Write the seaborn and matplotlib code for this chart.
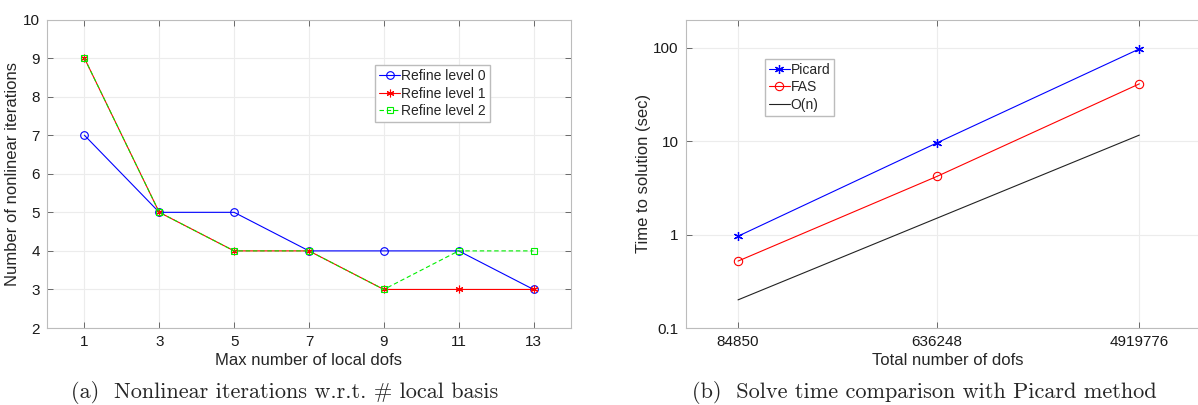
import numpy as np
import pandas as pd
import matplotlib
matplotlib.use("Agg")
import matplotlib.pyplot as plt
import seaborn as sns

# left panel: nonlinear iterations vs max local dofs
local_dofs = [1, 3, 5, 7, 9, 11, 13]
refine_0 = [7, 5, 5, 4, 4, 4, 3]
refine_1 = [9, 5, 4, 4, 3, 3, 3]
refine_2 = [9, 5, 4, 4, 3, 4, 4]

# right panel: solve time vs total dofs
total_dofs = [84850, 636248, 4919776]
picard_time = [0.96, 9.6, 97]
fas_time = [0.52, 4.2, 41]
order_n = [0.2, 1.5, 11.6]

sns.set_style("whitegrid")
plt.rcParams['font.family'] = ['Liberation Sans', 'DejaVu Sans']
plt.rcParams['axes.edgecolor'] = '#bcbcbc'
plt.rcParams['grid.color'] = '#ececec'
plt.rcParams['grid.linewidth'] = 0.8

fig = plt.figure(figsize=(11.98, 4.05), dpi=100)
ax1 = fig.add_axes([0.0392, 0.1901, 0.4374, 0.7617])
ax2 = fig.add_axes([0.5724, 0.1901, 0.4372, 0.7617])

left = pd.DataFrame({'dofs': local_dofs, 'r0': refine_0, 'r1': refine_1, 'r2': refine_2})
asterisk = (6, 2, 0)

sns.lineplot(data=left, x='dofs', y='r0', ax=ax1, color='#0000ff', lw=0.8,
             marker='o', markersize=5.5, markerfacecolor='none', markeredgecolor='#0000ff',
             markeredgewidth=0.8, label='Refine level 0')
sns.lineplot(data=left, x='dofs', y='r1', ax=ax1, color='#ff0000', lw=0.8,
             marker=asterisk, markersize=5.5, markeredgecolor='#ff0000',
             markeredgewidth=0.8, label='Refine level 1')
sns.lineplot(data=left, x='dofs', y='r2', ax=ax1, color='#00ee00', lw=0.8,
             linestyle=(0, (4, 2.5)), marker='s', markersize=4.5, markerfacecolor='none',
             markeredgecolor='#00ee00', markeredgewidth=0.8, label='Refine level 2')

ax1.set_xlim(0, 14)
ax1.set_ylim(2, 10)
ax1.set_xticks(local_dofs)
ax1.set_yticks(range(2, 11))
ax1.set_xlabel('Max number of local dofs', fontsize=12, labelpad=3)
ax1.set_ylabel('Number of nonlinear iterations', fontsize=12, labelpad=2)
ax1.legend(loc='upper left', bbox_to_anchor=(0.626, 0.852), fontsize=10, frameon=True,
           fancybox=False, edgecolor='#bcbcbc', framealpha=1, borderpad=0.3,
           handlelength=1.5, handletextpad=0.05, labelspacing=0.25, borderaxespad=0)

right = pd.DataFrame({'dofs': total_dofs, 'picard': picard_time, 'fas': fas_time, 'on': order_n})
sns.lineplot(data=right, x='dofs', y='picard', ax=ax2, color='#0000ff', lw=0.8,
             marker=asterisk, markersize=6.5, markeredgecolor='#0000ff',
             markeredgewidth=0.9, label='Picard')
sns.lineplot(data=right, x='dofs', y='fas', ax=ax2, color='#ff0000', lw=0.8,
             marker='o', markersize=6, markerfacecolor='none', markeredgecolor='#ff0000',
             markeredgewidth=0.8, label='FAS')
sns.lineplot(data=right, x='dofs', y='on', ax=ax2, color='#222222', lw=0.8, label='O(n)')

ax2.set_xscale('log')
ax2.set_yscale('log')
ax2.set_xlim(5e4, 1e7)
ax2.set_ylim(0.1, 200)
ax2.set_xticks(total_dofs)
ax2.set_xticklabels([str(v) for v in total_dofs])
ax2.set_yticks([0.1, 1, 10, 100])
ax2.set_yticklabels(['0.1', '1', '10', '100'])
ax2.minorticks_off()
ax2.set_xlabel('Total number of dofs', fontsize=12, labelpad=3)
ax2.set_ylabel('Time to solution (sec)', fontsize=12, labelpad=2)
ax2.legend(loc='upper left', bbox_to_anchor=(0.151, 0.873), fontsize=10, frameon=True,
           fancybox=False, edgecolor='#bcbcbc', framealpha=1, borderpad=0.3,
           handlelength=1.5, handletextpad=0.05, labelspacing=0.25, borderaxespad=0)

for ax in (ax1, ax2):
    for s in ax.spines.values():
        s.set_visible(True)
        s.set_color('#bcbcbc')
        s.set_linewidth(0.8)
    ax.tick_params(axis='both', which='major', direction='in', length=4, width=0.6,
                   color='#555555', labelsize=11, labelcolor='#1a1a1a', pad=5,
                   top=True, right=True, bottom=True, left=True)
    ax.grid(True, which='major')

fig.text(285 / 1198, 7 / 405, '(a)  Nonlinear iterations w.r.t. # local basis',
         family=['cmr10', 'DejaVu Serif'], fontsize=16, ha='center', va='baseline')
fig.text(924 / 1198, 7 / 405, '(b)  Solve time comparison with Picard method',
         family=['cmr10', 'DejaVu Serif'], fontsize=16, ha='center', va='baseline')

fig.savefig('out.png', dpi=100)
